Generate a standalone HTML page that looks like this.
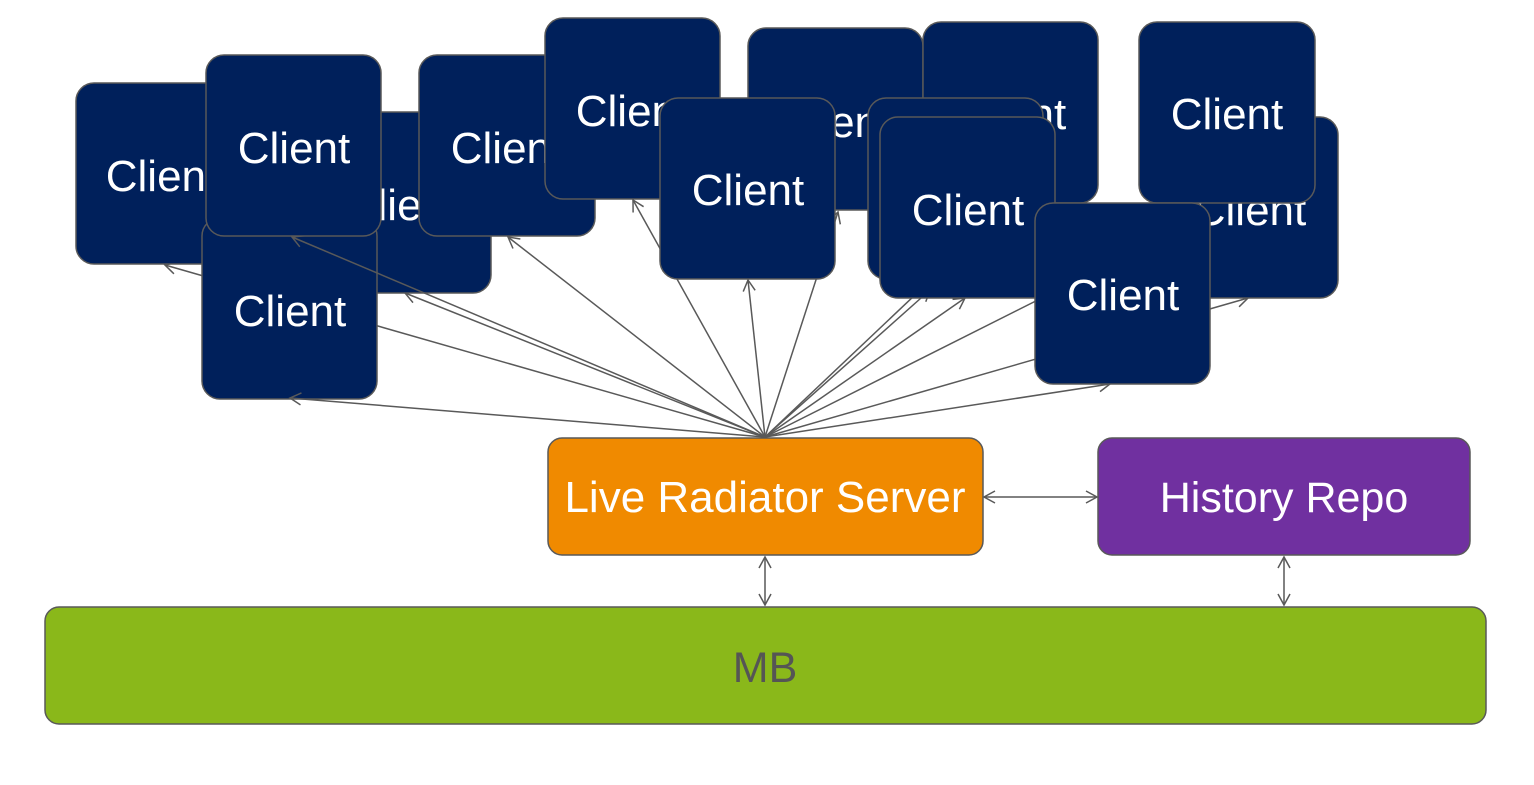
<!DOCTYPE html>
<html><head><style>
body{margin:0;width:1534px;height:780px;background:#fff;overflow:hidden;font-family:"Liberation Sans",sans-serif}
</style></head><body>
<svg width="1534" height="780" xmlns="http://www.w3.org/2000/svg">
<defs><marker id="a" markerWidth="14" markerHeight="14" refX="12" refY="7" orient="auto-start-reverse" markerUnits="userSpaceOnUse"><path d="M1,1 L12,7 L1,13" fill="none" stroke="#595959" stroke-width="1.5"/></marker></defs>
<g stroke="#595959" stroke-width="1.5" fill="none" marker-end="url(#a)">
<line x1="765" y1="437" x2="165" y2="265"/>
<line x1="765" y1="437" x2="405" y2="293"/>
<line x1="765" y1="437" x2="508" y2="237"/>
<line x1="765" y1="437" x2="633" y2="200"/>
<line x1="765" y1="437" x2="748" y2="280"/>
<line x1="765" y1="437" x2="838" y2="212"/>
<line x1="765" y1="437" x2="930" y2="290"/>
<line x1="765" y1="437" x2="965" y2="298"/>
<line x1="765" y1="437" x2="1010" y2="205"/>
<line x1="765" y1="437" x2="1110" y2="384"/>
<line x1="765" y1="437" x2="1248" y2="298"/>
<line x1="765" y1="437" x2="1227" y2="205"/>
</g>
<g stroke="#595959" stroke-width="1.5" fill="none" marker-end="url(#a)" marker-start="url(#a)">
<line x1="984" y1="497" x2="1097" y2="497"/>
<line x1="765" y1="557" x2="765" y2="605"/>
<line x1="1284" y1="557" x2="1284" y2="605"/>
</g>
<g fill="#fff" font-size="44" text-anchor="middle" font-family="Liberation Sans,sans-serif">
<g fill="#00205b" stroke="#595959" stroke-width="1.5">
<rect x="76" y="83" width="176" height="181" rx="18"/>
</g>
<text x="162" y="191">Client</text>
<rect x="315" y="112" width="176" height="181" rx="18" fill="#00205b" stroke="#595959" stroke-width="1.5"/>
<text x="402" y="220">Client</text>
<rect x="202" y="218" width="175" height="181" rx="18" fill="#00205b" stroke="#595959" stroke-width="1.5"/>
<text x="290" y="326">Client</text>
<g stroke="#595959" stroke-width="1.5" fill="none" marker-end="url(#a)">
<line x1="765" y1="437" x2="290" y2="398"/>
<line x1="765" y1="437" x2="292" y2="237"/>
</g>
<rect x="206" y="55" width="175" height="181" rx="18" fill="#00205b" stroke="#595959" stroke-width="1.5"/>
<text x="294" y="163">Client</text>
<rect x="419" y="55" width="176" height="181" rx="18" fill="#00205b" stroke="#595959" stroke-width="1.5"/>
<text x="507" y="163">Client</text>
<rect x="545" y="18" width="175" height="181" rx="18" fill="#00205b" stroke="#595959" stroke-width="1.5"/>
<text x="632" y="126">Client</text>
<rect x="748" y="28" width="175" height="182" rx="18" fill="#00205b" stroke="#595959" stroke-width="1.5"/>
<text x="835" y="137">Client</text>
<rect x="923" y="22" width="175" height="181" rx="18" fill="#00205b" stroke="#595959" stroke-width="1.5"/>
<text x="1010" y="129">Client</text>
<rect x="1163" y="117" width="175" height="181" rx="18" fill="#00205b" stroke="#595959" stroke-width="1.5"/>
<text x="1250" y="225">Client</text>
<rect x="1139" y="22" width="176" height="181" rx="18" fill="#00205b" stroke="#595959" stroke-width="1.5"/>
<text x="1227" y="129">Client</text>
<rect x="660" y="98" width="175" height="181" rx="18" fill="#00205b" stroke="#595959" stroke-width="1.5"/>
<text x="748" y="205">Client</text>
<rect x="868" y="98" width="175" height="181" rx="18" fill="#00205b" stroke="#595959" stroke-width="1.5"/>
<rect x="880" y="117" width="175" height="181" rx="18" fill="#00205b" stroke="#595959" stroke-width="1.5"/>
<text x="968" y="225">Client</text>
<rect x="1035" y="203" width="175" height="181" rx="18" fill="#00205b" stroke="#595959" stroke-width="1.5"/>
<text x="1123" y="310">Client</text>
</g>
<rect x="548" y="438" width="435" height="117" rx="14" fill="#f08a00" stroke="#595959" stroke-width="1.5"/>
<text x="765" y="512" fill="#fff" font-size="44" text-anchor="middle">Live Radiator Server</text>
<rect x="1098" y="438" width="372" height="117" rx="14" fill="#7030a0" stroke="#595959" stroke-width="1.5"/>
<text x="1284" y="512" fill="#fff" font-size="43" text-anchor="middle">History Repo</text>
<rect x="45" y="607" width="1441" height="117" rx="14" fill="#8ab81a" stroke="#595959" stroke-width="1.5"/>
<text x="765" y="682" fill="#555" font-size="43" text-anchor="middle">MB</text>
</svg>
</body></html>
